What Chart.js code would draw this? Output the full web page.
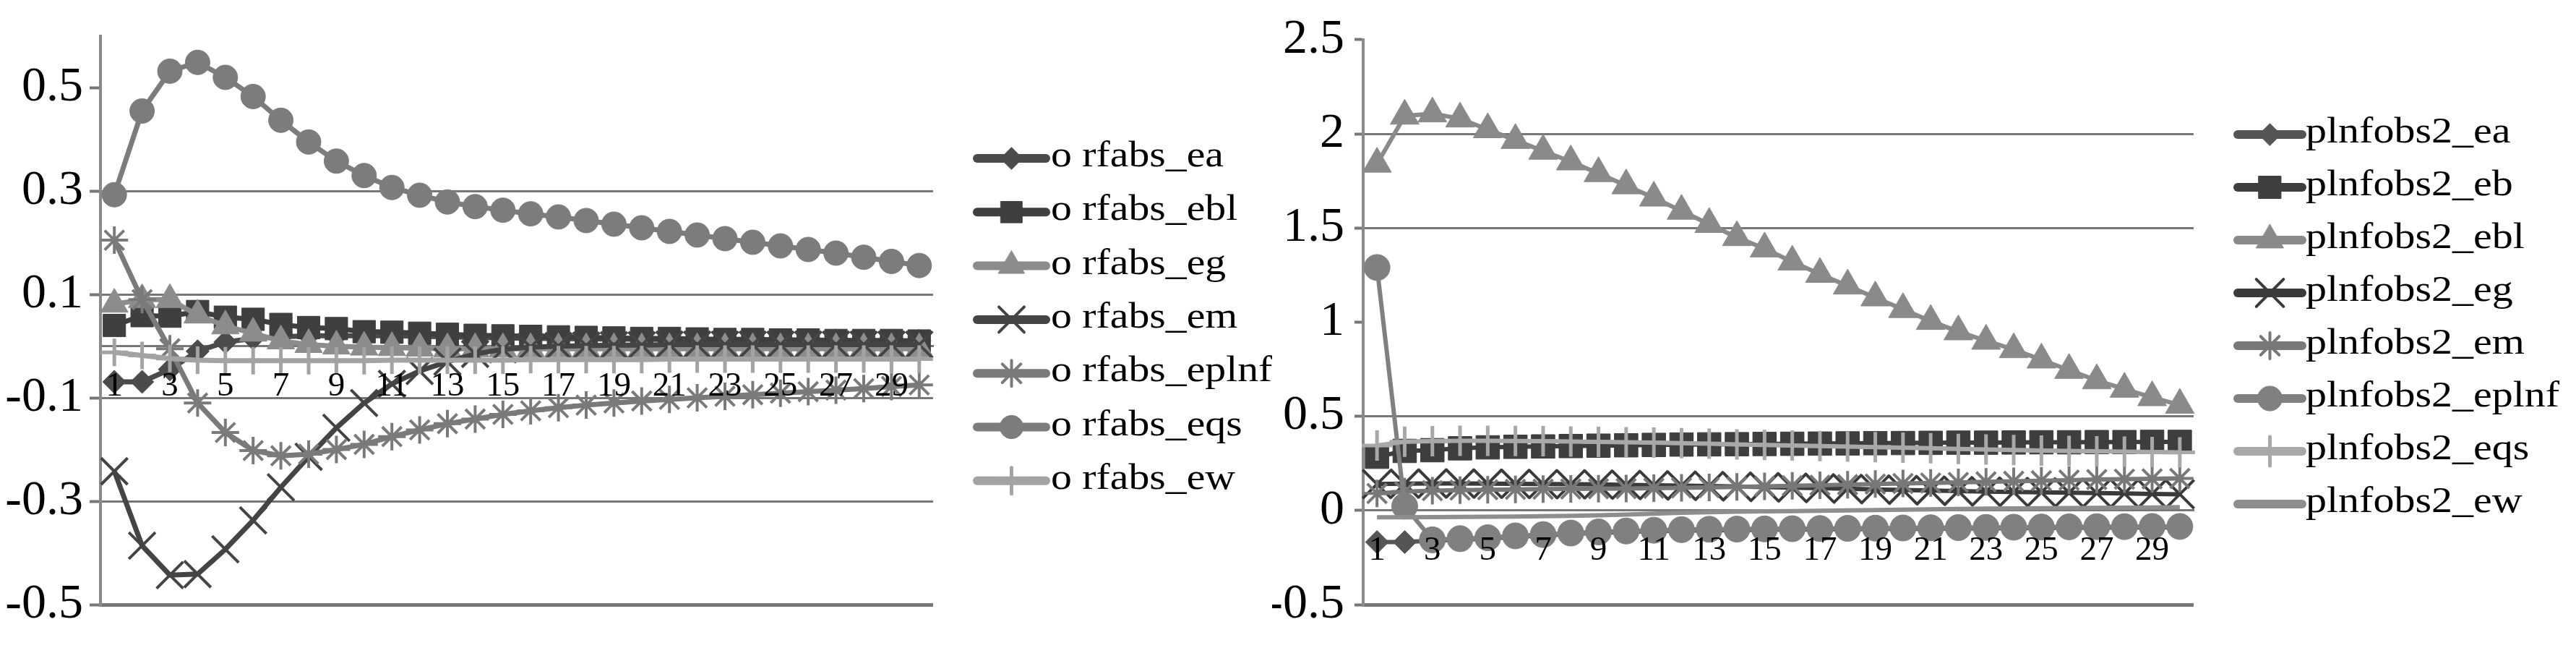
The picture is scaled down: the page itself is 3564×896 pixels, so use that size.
<!DOCTYPE html>
<html lang="en">
<head>
<meta charset="UTF-8">
<title>rfabs / plnfobs2 impulse responses</title>
<script src="https://cdn.jsdelivr.net/npm/chart.js"></script>
<style>
  body { margin: 0; background: #fff; }
  .wrap { position: relative; width: 3564px; height: 896px; background: #fff; }
  canvas { position: absolute; top: 0; }
  #leftChart { left: 0; }
  #rightChart { left: 1760px; }
</style>
</head>
<body>
<div class="wrap">
  <canvas id="leftChart" width="1760" height="896"></canvas>
  <canvas id="rightChart" width="1804" height="896"></canvas>
</div>
<script>
// horizon 1..30
const periods = ['1','2','3','4','5','6','7','8','9','10','11','12','13','14','15',
                 '16','17','18','19','20','21','22','23','24','25','26','27','28','29','30'];

// ---- left panel: o rfabs_* ----
const rfabsNames = ['o rfabs_ea', 'o rfabs_ebl', 'o rfabs_eg', 'o rfabs_em', 'o rfabs_eplnf', 'o rfabs_eqs', 'o rfabs_ew'];
const rfabsEa = [-0.069, -0.069, -0.045, -0.01, 0.008, 0.015, 0.018, 0.02, 0.02, 0.02, 0.02, 0.019, 0.018, 0.017, 0.016,
                 0.015, 0.015, 0.014, 0.014, 0.013, 0.013, 0.012, 0.012, 0.012, 0.011, 0.011, 0.011, 0.01, 0.01, 0.01];
const rfabsEbl = [0.04, 0.059, 0.058, 0.067, 0.056, 0.052, 0.042, 0.036, 0.034, 0.028, 0.027, 0.025, 0.023, 0.021, 0.02,
                  0.019, 0.018, 0.017, 0.016, 0.015, 0.015, 0.014, 0.013, 0.013, 0.012, 0.012, 0.011, 0.011, 0.011, 0.01];
const rfabsEg = [0.081, 0.09, 0.09, 0.06, 0.039, 0.025, 0.01, 0.003, 0.0, -0.002, -0.003, -0.004, -0.005, -0.005, -0.005,
                 -0.005, -0.005, -0.005, -0.005, -0.005, -0.005, -0.005, -0.005, -0.005, -0.005, -0.005, -0.005, -0.005, -0.005, -0.005];
const rfabsEm = [-0.242, -0.386, -0.443, -0.441, -0.393, -0.337, -0.273, -0.214, -0.158, -0.11, -0.073, -0.048, -0.03, -0.015, -0.006,
                 -0.002, 0.0, 0.001, 0.002, 0.002, 0.003, 0.003, 0.003, 0.003, 0.003, 0.003, 0.003, 0.003, 0.003, 0.003];
const rfabsEplnf = [0.205, 0.09, -0.005, -0.11, -0.167, -0.202, -0.212, -0.209, -0.2, -0.19, -0.175, -0.162, -0.15, -0.141, -0.132,
                    -0.125, -0.119, -0.114, -0.11, -0.106, -0.103, -0.1, -0.097, -0.094, -0.091, -0.088, -0.085, -0.082, -0.078, -0.075];
const rfabsEqs = [0.293, 0.455, 0.532, 0.549, 0.52, 0.483, 0.437, 0.395, 0.358, 0.33, 0.307, 0.292, 0.279, 0.27, 0.263,
                  0.256, 0.25, 0.243, 0.236, 0.229, 0.222, 0.215, 0.208, 0.201, 0.194, 0.187, 0.18, 0.172, 0.164, 0.156];
const rfabsEw = [-0.012, -0.018, -0.024, -0.027, -0.028, -0.028, -0.028, -0.028, -0.028, -0.028, -0.027, -0.027, -0.027, -0.027, -0.027,
                 -0.026, -0.026, -0.026, -0.026, -0.026, -0.025, -0.025, -0.025, -0.025, -0.025, -0.025, -0.025, -0.025, -0.025, -0.025];
const rfabsTicks = [-0.5, -0.3, -0.1, 0.1, 0.3, 0.5];

// ---- right panel: plnfobs2_* ----
const plnfNames = ['plnfobs2_ea', 'plnfobs2_eb', 'plnfobs2_ebl', 'plnfobs2_eg', 'plnfobs2_em', 'plnfobs2_eplnf', 'plnfobs2_eqs', 'plnfobs2_ew'];
const plnfEa = [-0.168, -0.168, -0.16, -0.155, -0.15, -0.14, -0.133, -0.125, -0.119, -0.114, -0.11, -0.107, -0.105, -0.104, -0.103,
                -0.102, -0.101, -0.1, -0.099, -0.098, -0.097, -0.096, -0.095, -0.094, -0.093, -0.092, -0.091, -0.091, -0.09, -0.09];
const plnfEb = [0.285, 0.316, 0.32, 0.33, 0.335, 0.338, 0.34, 0.342, 0.344, 0.346, 0.348, 0.35, 0.351, 0.352, 0.353,
                0.354, 0.355, 0.356, 0.357, 0.358, 0.359, 0.36, 0.36, 0.361, 0.362, 0.362, 0.363, 0.363, 0.364, 0.364];
const plnfEbl = [1.84, 2.095, 2.107, 2.08, 2.023, 1.966, 1.909, 1.852, 1.79, 1.725, 1.66, 1.59, 1.52, 1.45, 1.39,
                 1.32, 1.255, 1.193, 1.13, 1.068, 1.005, 0.95, 0.9, 0.855, 0.8, 0.745, 0.69, 0.645, 0.6, 0.56];
const plnfEg = [0.14, 0.142, 0.143, 0.143, 0.142, 0.141, 0.14, 0.139, 0.138, 0.136, 0.134, 0.132, 0.13, 0.127, 0.124,
                0.121, 0.118, 0.115, 0.112, 0.109, 0.106, 0.103, 0.1, 0.098, 0.096, 0.094, 0.092, 0.09, 0.088, 0.086];
const plnfEm = [0.09, 0.1, 0.105, 0.108, 0.11, 0.112, 0.113, 0.114, 0.115, 0.116, 0.118, 0.12, 0.122, 0.125, 0.128,
                0.131, 0.134, 0.137, 0.14, 0.143, 0.146, 0.149, 0.152, 0.155, 0.158, 0.161, 0.164, 0.166, 0.168, 0.17];
const plnfEplnf = [1.29, 0.023, -0.156, -0.15, -0.145, -0.135, -0.128, -0.12, -0.114, -0.109, -0.105, -0.102, -0.1, -0.099, -0.098,
                   -0.097, -0.096, -0.095, -0.094, -0.093, -0.092, -0.091, -0.09, -0.089, -0.088, -0.087, -0.086, -0.086, -0.085, -0.085];
const plnfEqs = [0.345, 0.365, 0.368, 0.37, 0.37, 0.369, 0.368, 0.366, 0.364, 0.362, 0.36, 0.357, 0.354, 0.351, 0.348,
                 0.345, 0.342, 0.339, 0.336, 0.333, 0.33, 0.327, 0.324, 0.321, 0.318, 0.316, 0.314, 0.312, 0.31, 0.308];
const plnfEw = [-0.036, -0.036, -0.035, -0.034, -0.033, -0.032, -0.031, -0.029, -0.026, -0.022, -0.017, -0.012, -0.009, -0.007, -0.005,
                -0.004, -0.002, 0.0, 0.002, 0.004, 0.006, 0.008, 0.01, 0.011, 0.012, 0.013, 0.014, 0.015, 0.016, 0.017];
const plnfTicks = [-0.5, 0, 0.5, 1, 1.5, 2, 2.5];

// marker looks (grey-scale print)
const rfabsLook = [
  { color: '#4b4b4b', style: 'rectRot',  r: 16, bw: 1 },
  { color: '#3f3f3f', style: 'rect',     r: 22, bw: 1 },
  { color: '#8c8c8c', style: 'triangle', r: 22, bw: 1 },
  { color: '#444444', style: 'crossRot', r: 26, bw: 4 },
  { color: '#7a7a7a', style: 'star',     r: 19, bw: 4 },
  { color: '#7c7c7c', style: 'circle',   r: 17, bw: 1 },
  { color: '#a3a3a3', style: 'cross',    r: 19, bw: 5 }
];
const plnfLook = [
  { color: '#555555', style: 'rectRot',  r: 16, bw: 1 },
  { color: '#3e3e3e', style: 'rect',     r: 23, bw: 1 },
  { color: '#8a8a8a', style: 'triangle', r: 23, bw: 1 },
  { color: '#3a3a3a', style: 'crossRot', r: 28, bw: 4 },
  { color: '#787878', style: 'star',     r: 19, bw: 4 },
  { color: '#808080', style: 'circle',   r: 18, bw: 1 },
  { color: '#a8a8a8', style: 'cross',    r: 21, bw: 5 },
  { color: '#8e8e8e', style: 'circle',   r: 0,  bw: 0 }
];

function makeDatasets(names, series, looks, lineWidth) {
  return names.map((name, i) => ({
    label: name,
    data: series[i],
    borderColor: looks[i].color,
    backgroundColor: looks[i].color,
    borderWidth: lineWidth,
    pointStyle: looks[i].style,
    pointRadius: looks[i].r,
    pointHoverRadius: looks[i].r,
    pointBorderWidth: looks[i].bw,
    pointBackgroundColor: looks[i].color,
    pointBorderColor: looks[i].color,
    tension: 0,
    clip: false,
    order: names.length - i   // first series at the bottom, like the source
  }));
}

// legend: line + marker + label, drawn beside the plot
const lineLegend = {
  id: 'lineLegend',
  afterDraw(chart, args, o) {
    const ctx = chart.ctx;
    const x0 = chart.chartArea.right + o.gap;
    const drawPoint = Chart.helpers && Chart.helpers.drawPoint;
    chart.data.datasets.forEach((ds, i) => {
      const y = o.top + i * o.pitch;
      ctx.save();
      ctx.strokeStyle = ds.borderColor;
      ctx.lineWidth = o.lineWidth;
      ctx.lineCap = 'round';
      ctx.beginPath();
      ctx.moveTo(x0, y);
      ctx.lineTo(x0 + o.length, y);
      ctx.stroke();
      if (ds.pointRadius > 0 && drawPoint) {
        ctx.fillStyle = ds.pointBackgroundColor;
        ctx.strokeStyle = ds.pointBorderColor;
        ctx.lineWidth = ds.pointBorderWidth;
        drawPoint(ctx, { pointStyle: ds.pointStyle, radius: ds.pointRadius * o.markerScale,
                         borderWidth: ds.pointBorderWidth, rotation: 0 }, x0 + o.length / 2, y);
      }
      ctx.fillStyle = '#000';
      ctx.font = o.font;
      ctx.textAlign = 'left';
      ctx.textBaseline = 'alphabetic';
      ctx.translate(x0 + o.length + o.textGap, y + o.baseline);
      ctx.scale(o.stretch, 1);
      ctx.fillText(ds.label, 0, 0);
      ctx.restore();
    });
  }
};

const serif = 'Liberation Serif';

function yAxis(min, max, tickValues, hidden, axisWidth, tickLen, pad) {
  return {
    type: 'linear',
    min: min,
    max: max,
    afterBuildTicks: s => { s.ticks = tickValues.map(v => ({ value: v })); },
    afterFit: s => { s.width = axisWidth; },
    grid: {
      color: c => (c.tick && hidden.includes(c.tick.value)) ? 'rgba(0,0,0,0)' : '#777777',
      lineWidth: c => (c.tick && c.tick.value === min) ? 5 : 3,
      tickColor: '#777777',
      tickLength: tickLen,
      tickWidth: 4
    },
    border: { color: '#8a8a8a', width: 4 },
    ticks: {
      color: '#000',
      padding: pad,
      font: { family: serif, size: 68 },
      callback: v => String(v)
    }
  };
}

function xAxis(zeroWidth) {
  return {
    type: 'category',
    position: { y: 0 },
    offset: true,
    grid: { display: false, drawTicks: false },
    border: { color: '#777777', width: zeroWidth },
    ticks: {
      z: 1,
      autoSkip: false,
      minRotation: 0,
      maxRotation: 0,
      padding: 28,
      color: '#000',
      font: { family: serif, size: 47 },
      callback: (v, i) => (i % 2 === 0 ? periods[i] : '')
    }
  };
}

function baseOptions(padRight) {
  return {
    responsive: false,
    animation: false,
    events: [],
    layout: { padding: { left: 0, top: 48, right: padRight, bottom: 60 } },
    plugins: { legend: { display: false }, tooltip: { enabled: false } }
  };
}

// left chart
const leftOpts = baseOptions(469);
leftOpts.scales = { x: xAxis(3), y: yAxis(-0.5, 0.6, rfabsTicks, [0.5], 139, 15, 9) };
leftOpts.plugins.lineLegend = {
  gap: 61, top: 219, pitch: 74.3, length: 95, textGap: 7, lineWidth: 12,
  markerScale: 0.95, font: '50px "Liberation Serif"', stretch: 1.155, baseline: 11
};
new Chart(document.getElementById('leftChart'), {
  type: 'line',
  data: {
    labels: periods,
    datasets: makeDatasets(rfabsNames,
      [rfabsEa, rfabsEbl, rfabsEg, rfabsEm, rfabsEplnf, rfabsEqs, rfabsEw], rfabsLook, 7)
  },
  options: leftOpts,
  plugins: [lineLegend]
});

// right chart
const rightOpts = baseOptions(529);
rightOpts.scales = { x: xAxis(3), y: yAxis(-0.5, 2.5, plnfTicks, [1, 2.5], 126, 12, 14) };
rightOpts.plugins.lineLegend = {
  gap: 61, top: 186, pitch: 73, length: 89, textGap: 5, lineWidth: 12,
  markerScale: 0.95, font: '50px "Liberation Serif"', stretch: 1.16, baseline: 11
};
new Chart(document.getElementById('rightChart'), {
  type: 'line',
  data: {
    labels: periods,
    datasets: makeDatasets(plnfNames,
      [plnfEa, plnfEb, plnfEbl, plnfEg, plnfEm, plnfEplnf, plnfEqs, plnfEw], plnfLook, 6)
  },
  options: rightOpts,
  plugins: [lineLegend]
});
</script>
</body>
</html>
